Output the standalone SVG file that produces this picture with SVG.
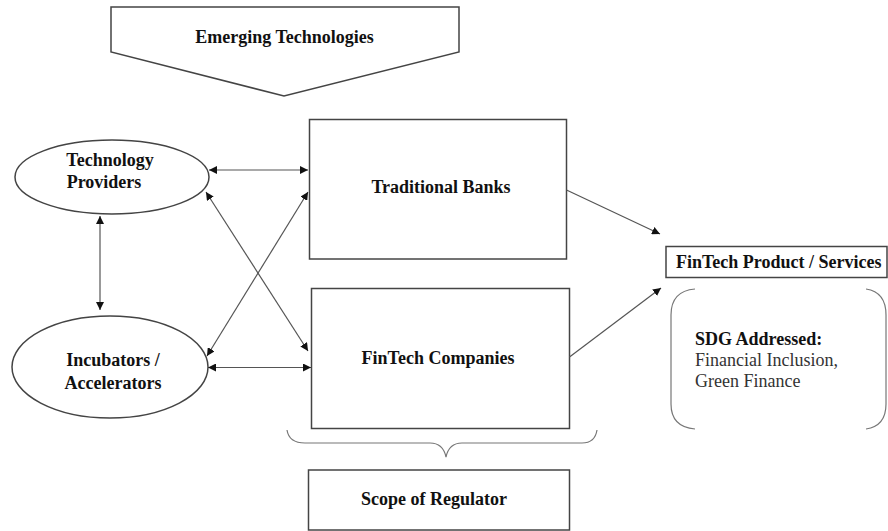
<svg xmlns="http://www.w3.org/2000/svg" width="888" height="531" viewBox="0 0 888 531">
<style>
.shape{fill:#fff;stroke:#444;stroke-width:1.5}
.lbl{font-family:"Liberation Serif","Times New Roman",serif;font-size:18px;font-weight:bold;fill:#111;text-anchor:middle}
.reg{font-family:"Liberation Serif","Times New Roman",serif;font-size:18px;fill:#333}
.con{fill:none;stroke:#555;stroke-width:1.2}
.brk{fill:none;stroke:#777;stroke-width:1.2}
</style>
<defs>
<marker id="ah" viewBox="0 0 10 10" refX="10" refY="5" markerWidth="8" markerHeight="8" markerUnits="userSpaceOnUse" orient="auto-start-reverse">
<path d="M0,0 L10,5 L0,10 z" fill="#111"/>
</marker>
</defs>
<rect width="888" height="531" fill="#fff"/>
<g id="emerging">
<polygon class="shape" points="111,7 459,7 459,52 284,96 111,52"/>
<text class="lbl" x="284.5" y="43">Emerging Technologies</text>
</g>
<g id="tech-providers">
<ellipse class="shape" cx="112" cy="177" rx="97" ry="37"/>
<text class="lbl" x="110" y="166">Technology</text>
<text class="lbl" x="104" y="188">Providers</text>
</g>
<g id="incubators">
<ellipse class="shape" cx="110" cy="367" rx="98" ry="51"/>
<text class="lbl" x="113" y="366">Incubators /</text>
<text class="lbl" x="113" y="389">Accelerators</text>
</g>
<g id="banks">
<rect class="shape" x="309.5" y="119.5" width="257" height="139.5"/>
<text class="lbl" x="441" y="193">Traditional Banks</text>
</g>
<g id="fintech">
<rect class="shape" x="311.5" y="288.5" width="258" height="140"/>
<text class="lbl" x="438" y="364">FinTech Companies</text>
</g>
<g id="product">
<rect class="shape" x="666" y="246.5" width="221" height="31"/>
<text class="lbl" x="676" y="268" style="text-anchor:start">FinTech Product / Services</text>
</g>
<g id="sdg">
<path class="brk" d="M695,289 Q671,291 671,315 L671,404 Q671,427 695,429"/>
<path class="brk" d="M866,289 Q886,292 886,315 L886,404 Q886,426 866,429"/>
<text class="lbl" x="695" y="345" style="text-anchor:start">SDG Addressed:</text>
<text class="reg" x="695" y="366">Financial Inclusion,</text>
<text class="reg" x="695" y="387">Green Finance</text>
</g>
<g id="regulator">
<path class="brk" d="M287,430 Q289,443 305,443 L430,443 Q443,443 446,457 Q449,443 462,443 L582,443 Q595,443 597,430"/>
<rect class="shape" x="308.5" y="470" width="261" height="60"/>
<text class="lbl" x="434" y="505">Scope of Regulator</text>
</g>
<g id="connectors">
<line class="con" x1="100" y1="216" x2="100" y2="310" marker-start="url(#ah)" marker-end="url(#ah)"/>
<line class="con" x1="209" y1="170" x2="308" y2="170" marker-start="url(#ah)" marker-end="url(#ah)"/>
<line class="con" x1="208" y1="367.5" x2="311" y2="367.5" marker-start="url(#ah)" marker-end="url(#ah)"/>
<line class="con" x1="206" y1="192" x2="308" y2="351" marker-start="url(#ah)" marker-end="url(#ah)"/>
<line class="con" x1="308" y1="192" x2="207" y2="356" marker-start="url(#ah)" marker-end="url(#ah)"/>
<line class="con" x1="566.5" y1="190" x2="660" y2="234" marker-end="url(#ah)"/>
<line class="con" x1="569.5" y1="357" x2="661" y2="288" marker-end="url(#ah)"/>
</g>
</svg>
